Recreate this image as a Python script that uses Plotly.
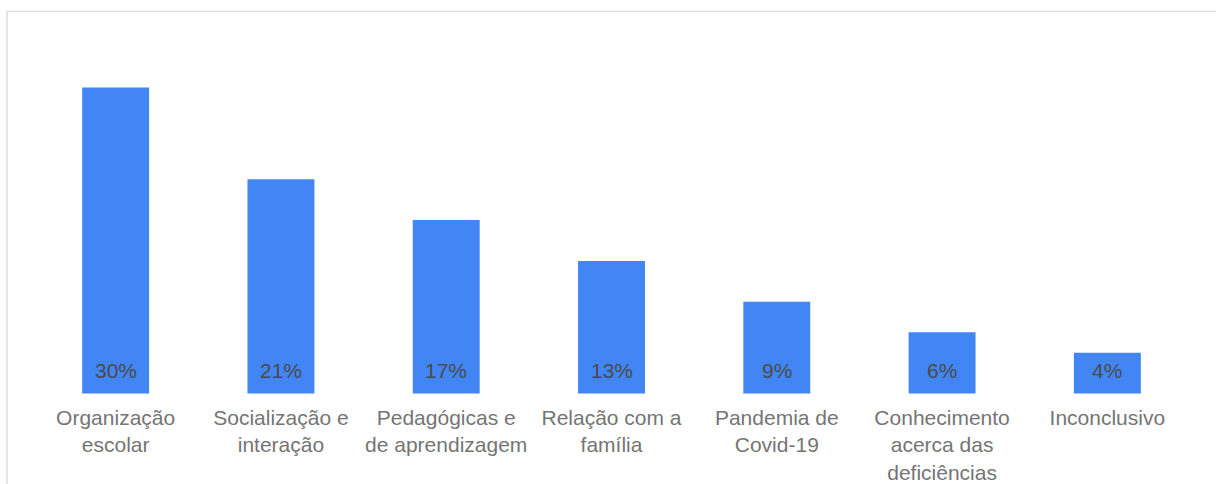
import plotly.graph_objects as go

categories = ["Organização<br>escolar", "Socialização e<br>interação", "Pedagógicas e<br>de aprendizagem",
              "Relação com a<br>família", "Pandemia de<br>Covid-19", "Conhecimento<br>acerca das<br>deficiências",
              "Inconclusivo"]
values = [30, 21, 17, 13, 9, 6, 4]
value_labels = ["30%", "21%", "17%", "13%", "9%", "6%", "4%"]

W, H = 1216, 484
L, R, T, B = 33, 26, 56.8, 87
pw, ph = W - L - R, H - T - B

fig = go.Figure(go.Bar(x=categories, y=values, marker=dict(color="#4285F4", line=dict(width=0)),
                       hoverinfo="skip"))

for c, v, t in zip(categories, values, value_labels):
    fig.add_annotation(x=c, y=0, text=t, showarrow=False, yanchor="bottom", yshift=9,
                       font=dict(family="Liberation Sans, Arial", size=21, color="#4a4a4a"))

def px_x(x):
    return (x - L) / pw

def px_y(y):
    return (H - B - y) / ph

fig.add_shape(type="rect", xref="paper", yref="paper",
              x0=px_x(7), x1=px_x(W + 10), y0=px_y(11), y1=px_y(H + 10),
              line=dict(color="#d3d3d3", width=1.2), fillcolor="rgba(0,0,0,0)")

fig.update_layout(
    width=W, height=H, margin=dict(l=L, r=R, t=T, b=B),
    paper_bgcolor="white", plot_bgcolor="white", bargap=0.595, showlegend=False,
    font=dict(family="Liberation Sans, Arial", size=21, color="#757575"),
    xaxis=dict(showgrid=False, showline=False, zeroline=False, ticks="", tickangle=0,
               tickfont=dict(size=21, color="#757575"), ticklabelstandoff=6, automargin=False),
    yaxis=dict(range=[-0.35, 33], showgrid=False, showline=False, zeroline=False,
               showticklabels=False, automargin=False),
)

fig.write_html("out.html")
